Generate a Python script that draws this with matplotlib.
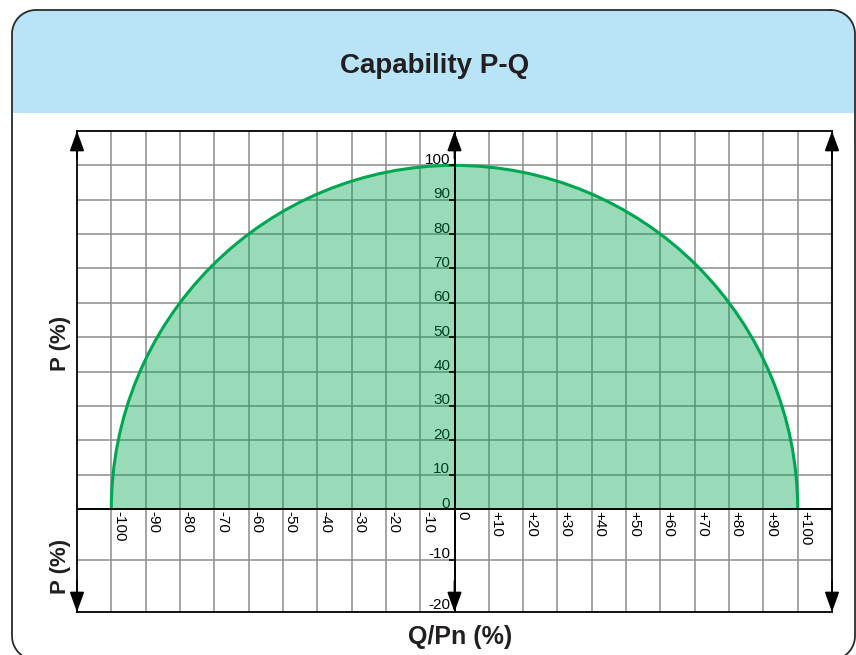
import numpy as np
import matplotlib
matplotlib.use('Agg')
import matplotlib.pyplot as plt
from matplotlib.patches import FancyBboxPatch, Rectangle, Wedge, Arc

# data
title = 'Capability P-Q'
q_ticks = list(range(-100, 101, 10))
q_labels = ['-100', '-90', '-80', '-70', '-60', '-50', '-40', '-30', '-20', '-10', '0',
            '+10', '+20', '+30', '+40', '+50', '+60', '+70', '+80', '+90', '+100']
p_ticks = [0, 10, 20, 30, 40, 50, 60, 70, 80, 90, 100]
p_neg_ticks = [-10, -20]
capability_radius = 100
q_limits = (-110, 110)
p_limits = (-20, 110)

green = '#00a651'
grid_col = '#8c8c8c'

plt.rcParams['font.family'] = ['Liberation Sans', 'DejaVu Sans']

fig = plt.figure(figsize=(8.56, 6.55), dpi=100)


def rounded_outline(x0, y0, x1, y1, r, n=20):
    # outline of a rounded box as a plain polyline (screen y grows downwards)
    xs, ys = [], []
    corners = [(x1 - r, y0 + r, 270, 360), (x1 - r, y1 - r, 0, 90),
               (x0 + r, y1 - r, 90, 180), (x0 + r, y0 + r, 180, 270)]
    for cx, cy, a0, a1 in corners:
        t = np.radians(np.linspace(a0, a1, n))
        xs.extend(cx + r * np.cos(t))
        ys.extend(cy + r * np.sin(t))
    xs.append(xs[0])
    ys.append(ys[0])
    return xs, ys


# background frame with blue header (pixel coords)
bg = fig.add_axes([0, 0, 1, 1], zorder=0)
bg.set_xlim(0, 856)
bg.set_ylim(655, 0)
bg.axis('off')
bg.add_patch(FancyBboxPatch((12, 10), 843, 150, boxstyle='round,pad=0,rounding_size=24',
                            fc='#b9e4f8', ec='none'))
bg.add_patch(Rectangle((13, 113), 841, 60, fc='white', ec='none'))
fx, fy = rounded_outline(12, 10, 855, 660, 24)
bg.plot(fx, fy, color='#2b2b2b', lw=1.3, solid_joinstyle='round')

bg.text(435, 66, title, ha='center', va='center', fontsize=20, fontweight='bold',
        color='#231f20', family=['Liberation Sans Narrow', 'Liberation Sans', 'DejaVu Sans'])
bg.text(61, 343, 'P (%)', rotation=90, ha='center', va='center', fontsize=16,
        fontweight='bold', color='#231f20')
bg.text(61, 566, 'P (%)', rotation=90, ha='center', va='center', fontsize=16,
        fontweight='bold', color='#231f20')
bg.text(460, 637, 'Q/Pn (%)', ha='center', va='center', fontsize=18,
        fontweight='bold', color='#231f20')

# main plot: negative P drawn 1.5x taller
ax = fig.add_axes([77 / 856, 43 / 655, 755 / 856, 481 / 655], zorder=1)


def fwd(y):
    y = np.asarray(y, dtype=float)
    return np.where(y < 0, y * 1.5, y)


def inv(y):
    y = np.asarray(y, dtype=float)
    return np.where(y < 0, y / 1.5, y)


ax.set_yscale('function', functions=(fwd, inv))
ax.set_xlim(*q_limits)
ax.set_ylim(*p_limits)

ax.set_xticks(q_ticks)
ax.set_yticks(p_neg_ticks[:1] + p_ticks[1:])
ax.set_xticklabels([])
ax.set_yticklabels([])
ax.tick_params(length=0)
ax.set_axisbelow(True)
ax.grid(True, color=grid_col, lw=1.1)
for s in ax.spines.values():
    s.set_color('black')
    s.set_linewidth(1.3)

ax.axhline(0, color='black', lw=1.4, zorder=5)
ax.axvline(0, color='black', lw=1.4, zorder=5)

# capability area
ax.add_patch(Wedge((0, 0), capability_radius, 0, 180, fc=green, alpha=0.4, ec='none', zorder=3))
ax.add_patch(Arc((0, 0), 2 * capability_radius, 2 * capability_radius, theta1=0, theta2=180,
                 color=green, lw=2.2, zorder=4))

# tick labels
for v in p_ticks:
    ax.annotate(str(v), xy=(0, v), xytext=(-3, 1), textcoords='offset points',
                ha='right', va='baseline', fontsize=11, color='black', zorder=2)
for v in p_neg_ticks:
    ax.annotate(str(v), xy=(0, v), xytext=(-3, 2), textcoords='offset points',
                ha='right', va='baseline', fontsize=11, color='black', zorder=2)
ax.plot([0] * len(p_ticks + p_neg_ticks[:1]), p_ticks + p_neg_ticks[:1], ls='none',
        marker=0, ms=4, mew=1.2, color='black', zorder=5)
for v, lab in zip(q_ticks, q_labels):
    ax.annotate(lab, xy=(v, 0), xytext=(0.5, -1.5), textcoords='offset points',
                rotation=270, ha='left', va='top', fontsize=11, color='black', zorder=2)

# arrows on the three vertical axes
arrow = dict(arrowstyle='-|>,head_length=0.55,head_width=0.2', mutation_scale=22,
             color='black', lw=1.3, shrinkA=0, shrinkB=0)
for xv in [q_limits[0], 0, q_limits[1]]:
    ax.annotate('', xy=(xv, p_limits[1]), xytext=(xv, p_limits[1] - 8), arrowprops=arrow, zorder=6)
    ax.annotate('', xy=(xv, p_limits[0]), xytext=(xv, p_limits[0] + 6), arrowprops=arrow, zorder=6)

fig.savefig('out.png', dpi=100)
